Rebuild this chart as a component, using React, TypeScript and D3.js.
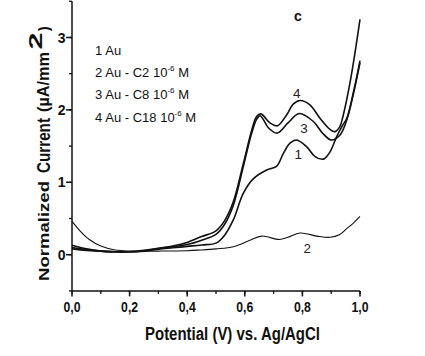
import React from "react";
import * as d3 from "d3";

// ---- data (Potential V vs Ag/AgCl, Normalized current µA/mm²) ----
const potentialAu = [0, 0.05, 0.1, 0.15, 0.2, 0.25, 0.3, 0.35, 0.4, 0.45, 0.5, 0.53, 0.56, 0.595, 0.63, 0.676, 0.71, 0.734, 0.757, 0.78, 0.815, 0.844, 0.873, 0.896, 0.919, 0.94, 0.954, 0.977, 1.0];
const currentAu = [0.13, 0.08, 0.05, 0.04, 0.04, 0.05, 0.075, 0.095, 0.115, 0.135, 0.16, 0.27, 0.48, 0.85, 1.05, 1.17, 1.22, 1.4, 1.54, 1.585, 1.49, 1.355, 1.32, 1.42, 1.63, 1.79, 1.88, 2.24, 2.68];

const potentialC2 = [0, 0.03, 0.06, 0.1, 0.15, 0.2, 0.3, 0.4, 0.444, 0.5, 0.56, 0.618, 0.659, 0.72, 0.75, 0.792, 0.85, 0.896, 0.93, 0.954, 0.975, 1.0];
const currentC2 = [0.46, 0.32, 0.21, 0.12, 0.065, 0.05, 0.05, 0.055, 0.064, 0.08, 0.11, 0.2, 0.257, 0.21, 0.24, 0.3, 0.257, 0.24, 0.28, 0.36, 0.43, 0.53];

const potentialC8 = [0, 0.05, 0.1, 0.15, 0.2, 0.25, 0.3, 0.35, 0.4, 0.45, 0.5, 0.53, 0.56, 0.595, 0.624, 0.641, 0.653, 0.685, 0.713, 0.75, 0.789, 0.838, 0.87, 0.9, 0.93, 0.954, 0.977, 1.0];
const currentC8 = [0.1, 0.07, 0.05, 0.04, 0.04, 0.055, 0.085, 0.11, 0.14, 0.2, 0.28, 0.42, 0.68, 1.22, 1.68, 1.87, 1.92, 1.74, 1.68, 1.82, 1.95, 1.84, 1.68, 1.585, 1.65, 1.86, 2.22, 2.65];

const potentialC18 = [0, 0.05, 0.1, 0.15, 0.2, 0.25, 0.3, 0.35, 0.4, 0.45, 0.5, 0.53, 0.56, 0.595, 0.624, 0.641, 0.656, 0.6875, 0.713, 0.745, 0.768, 0.792, 0.826, 0.861, 0.896, 0.913, 0.93, 0.942, 0.965, 0.985, 1.0];
const currentC18 = [0.08, 0.06, 0.05, 0.04, 0.04, 0.06, 0.09, 0.12, 0.17, 0.25, 0.33, 0.47, 0.73, 1.26, 1.72, 1.91, 1.945, 1.82, 1.78, 1.93, 2.08, 2.13, 2.07, 1.885, 1.73, 1.7, 1.77, 1.93, 2.37, 2.85, 3.25];

const curveLabels = ["1", "2", "3", "4"];
const curveLabelV = [0.786, 0.817, 0.806, 0.78];
const curveLabelI = [1.39, 0.088, 1.746, 2.23];

const legendNumbers = ["1", "2", "3", "4"];
const legendNames = ["Au", "Au - C2 10", "Au - C8 10", "Au - C18 10"];
const legendHasConc = [false, true, true, true];

const xTickValues = [0, 0.2, 0.4, 0.6, 0.8, 1.0];
const xTickLabels = ["0,0", "0,2", "0,4", "0,6", "0,8", "1,0"];
const yTickValues = [0, 1, 2, 3];
const yTickLabels = ["0", "1", "2", "3"];

const W = 425;
const H = 356;

export default function App() {
  const x = d3.scaleLinear().domain([0, 1]).range([72, 360]);
  const y = d3.scaleLinear().domain([-0.5, 3.5]).range([290.9, 1.3]);

  const line = d3
    .line<[number, number]>()
    .x((d) => x(d[0]))
    .y((d) => y(d[1]))
    .curve(d3.curveCatmullRom.alpha(0.5));

  const series = [
    { p: potentialAu, c: currentAu, w: 1.6 },
    { p: potentialC2, c: currentC2, w: 1.1 },
    { p: potentialC8, c: currentC8, w: 1.6 },
    { p: potentialC18, c: currentC18, w: 1.6 },
  ];

  const xMinor = d3.range(0, 1.0001, 0.1);
  const yMinor = d3.range(-0.5, 3.5001, 0.5);
  const tickFont = "'Liberation Sans Narrow', 'Arial Narrow', 'Liberation Sans', Arial, sans-serif";
  const font = "'Liberation Sans', Arial, sans-serif";
  const ink = "#111";

  return (
    <svg
      width={W}
      height={H}
      style={{ position: "absolute", left: 0, top: 0, background: "#fff" }}
    >
      <rect x={0} y={0} width={W} height={H} fill="#fff" />

      {/* curves */}
      {series.map((s, i) => (
        <path
          key={i}
          d={line(s.p.map((v, k) => [v, s.c[k]] as [number, number])) || ""}
          fill="none"
          stroke={ink}
          strokeWidth={s.w}
          strokeLinejoin="round"
        />
      ))}

      {/* axes */}
      <line x1={x(0)} x2={x(0)} y1={y(-0.5)} y2={y(3.5)} stroke={ink} strokeWidth={1.5} />
      <line x1={x(0)} x2={x(1)} y1={y(-0.5)} y2={y(-0.5)} stroke={ink} strokeWidth={1.5} />

      {yMinor.map((v, i) => (
        <line key={"ym" + i} x1={x(0)} x2={x(0) - 3} y1={y(v)} y2={y(v)} stroke={ink} strokeWidth={1.3} />
      ))}
      {yTickValues.map((v, i) => (
        <g key={"yt" + i}>
          <line x1={x(0)} x2={x(0) - 6} y1={y(v)} y2={y(v)} stroke={ink} strokeWidth={1.5} />
          <text
            x={x(0) - 6.5}
            y={y(v) + 5}
            textAnchor="end"
            fontFamily={tickFont}
            fontWeight="bold"
            fontSize={14}
            fill={ink}
          >
            {yTickLabels[i]}
          </text>
        </g>
      ))}

      {xMinor.map((v, i) => (
        <line key={"xm" + i} x1={x(v)} x2={x(v)} y1={y(-0.5)} y2={y(-0.5) + 3} stroke={ink} strokeWidth={1.3} />
      ))}
      {xTickValues.map((v, i) => (
        <g key={"xt" + i}>
          <line x1={x(v)} x2={x(v)} y1={y(-0.5)} y2={y(-0.5) + 5.5} stroke={ink} strokeWidth={1.5} />
          <text
            x={x(v)}
            y={311.5}
            textAnchor="middle"
            fontFamily={tickFont}
            fontWeight="bold"
            fontSize={14}
            fill={ink}
            textLength={17}
            lengthAdjust="spacingAndGlyphs"
          >
            {xTickLabels[i]}
          </text>
        </g>
      ))}

      {/* x title */}
      <text
        x={145}
        y={340}
        fontFamily={font}
        fontWeight="bold"
        fontSize={17.5}
        fill={ink}
        textLength={175}
        lengthAdjust="spacingAndGlyphs"
      >
        Potential (V) vs. Ag/AgCl
      </text>

      {/* y title (rotated pieces) */}
      <text
        transform="translate(49,281) rotate(-90)"
        fontFamily={font}
        fontWeight="bold"
        fontSize={15}
        fill={ink}
        textLength={100}
        lengthAdjust="spacingAndGlyphs"
      >
        Normalized
      </text>
      <text
        transform="translate(49.5,173) rotate(-90)"
        fontFamily={font}
        fontWeight="bold"
        fontSize={18}
        fill={ink}
        textLength={55}
        lengthAdjust="spacingAndGlyphs"
      >
        Current
      </text>
      <text
        transform="translate(49,112) rotate(-90)"
        fontFamily={font}
        fontWeight="bold"
        fontSize={16.5}
        fill={ink}
        textLength={60}
        lengthAdjust="spacingAndGlyphs"
      >
        (µA/mm
      </text>
      <text
        transform="translate(42,49.5) rotate(-90)"
        fontFamily={font}
        fontWeight="bold"
        fontSize={18}
        fill={ink}
        textLength={17}
        lengthAdjust="spacingAndGlyphs"
      >
        2
      </text>
      <text
        transform="translate(49,31) rotate(-90)"
        fontFamily={font}
        fontWeight="bold"
        fontSize={14}
        fill={ink}
      >
        )
      </text>

      {/* panel letter */}
      <text x={298} y={21} textAnchor="middle" fontFamily={font} fontWeight="bold" fontSize={14} fill={ink}>
        c
      </text>

      {/* legend */}
      {legendNumbers.map((n, i) => (
        <text key={"lg" + i} x={95} y={55 + i * 22.2} fontFamily={font} fontSize={13} fill={ink}>
          {n}
          <tspan dx={3}>{legendNames[i]}</tspan>
          {legendHasConc[i] ? (
            <>
              <tspan fontSize={8} dy={-6}>-6</tspan>
              <tspan dy={6}> M</tspan>
            </>
          ) : null}
        </text>
      ))}

      {/* curve labels */}
      {curveLabels.map((t, i) => (
        <text
          key={"cl" + i}
          x={x(curveLabelV[i])}
          y={y(curveLabelI[i]) + 5}
          textAnchor="middle"
          fontFamily={font}
          fontSize={13.5}
          fill="#222"
        >
          {t}
        </text>
      ))}
    </svg>
  );
}
